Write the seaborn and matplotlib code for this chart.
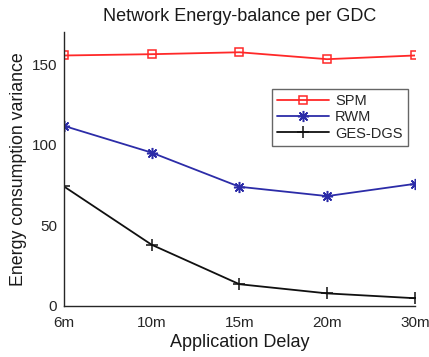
import pandas as pd
import seaborn as sns
import matplotlib.pyplot as plt

delays = ["6m", "10m", "15m", "20m", "30m"]
spm = [155.5, 156.3, 157.5, 153.2, 155.5]
rwm = [111.8, 95.2, 74.0, 68.2, 75.8]
ges_dgs = [74.2, 38.0, 13.5, 7.8, 4.8]

sns.set_style("white")
plt.rcParams['font.family'] = ['Liberation Sans', 'DejaVu Sans']

fig = plt.figure(figsize=(4.29, 3.57), dpi=100)
ax = fig.add_axes([0.149, 0.143, 0.818, 0.767])

pos = list(range(len(delays)))
series = [
    ("SPM", spm, "#ff2828", "s", 5.5),
    ("RWM", rwm, "#2c2ca8", (8, 2, 0), 8),
    ("GES-DGS", ges_dgs, "#101010", "+", 8),
]
for name, vals, color, mk, ms in series:
    sns.lineplot(x=pos, y=vals, color=color, marker=mk, markersize=ms,
                 markerfacecolor="none", markeredgecolor=color,
                 markeredgewidth=1.1, linewidth=1.3, label=name, ax=ax)

ax.set_xlim(0, 4)
ax.set_ylim(0, 170)
ax.set_xticks(pos)
ax.set_xticklabels(delays)
ax.set_yticks([0, 50, 100, 150])
ax.tick_params(direction="in", length=4, labelsize=11, colors="#262626")
ax.tick_params(axis="x", pad=7)
ax.tick_params(axis="y", pad=5)
for s in ["top", "right"]:
    ax.spines[s].set_visible(False)
for s in ["left", "bottom"]:
    ax.spines[s].set_color("#262626")
    ax.spines[s].set_linewidth(1.0)

ax.set_title("Network Energy-balance per GDC", fontsize=13, color="#1a1a1a", pad=8)
ax.set_xlabel("Application Delay", fontsize=13, color="#1a1a1a", labelpad=3)
ax.set_ylabel("Energy consumption variance", fontsize=12.8, color="#1a1a1a", labelpad=3)

leg = ax.legend(loc="upper right", bbox_to_anchor=(0.98, 0.792), borderaxespad=0,
                fontsize=10.5, frameon=True, fancybox=False, edgecolor="#404040",
                handlelength=3.6, handletextpad=0.4, borderpad=0.35, labelspacing=0.15)
leg.get_frame().set_linewidth(1.0)

fig.savefig("out.png", dpi=100)
